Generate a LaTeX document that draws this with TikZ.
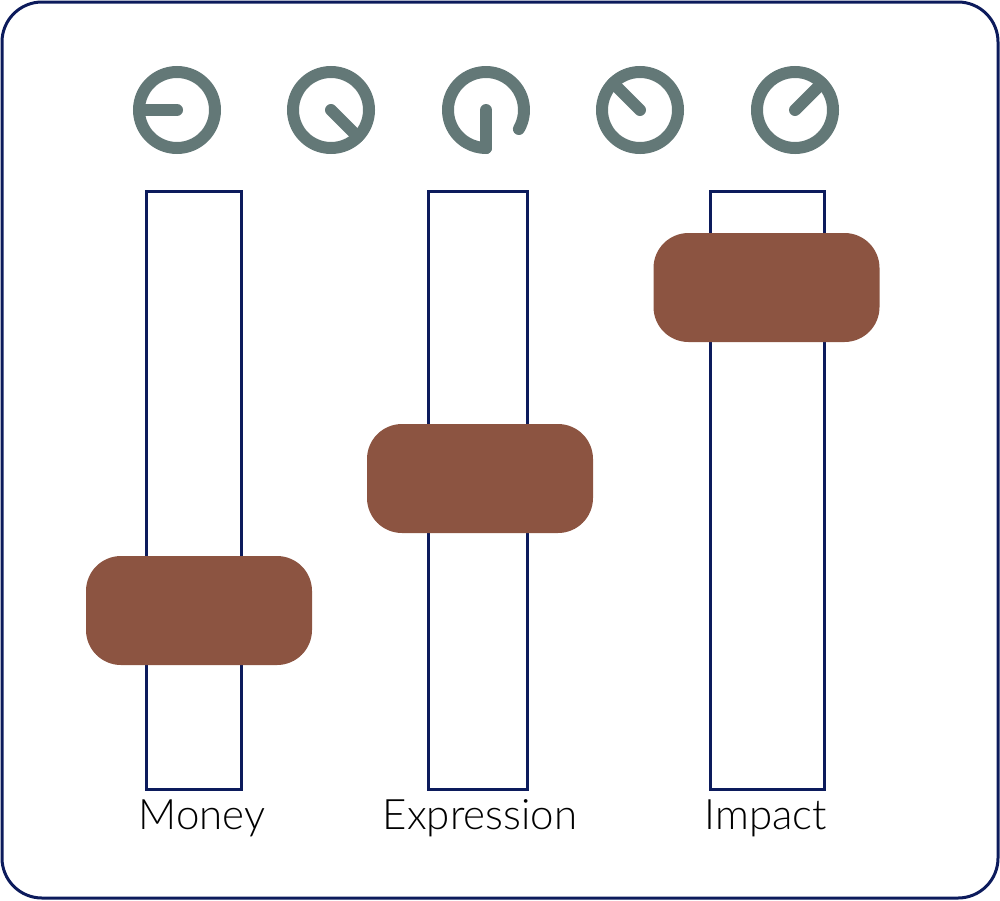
\documentclass[tikz,border=0pt]{standalone}
\usepackage{fontspec}
\setmainfont{Lato}[UprightFont=* Light]
\usepackage{tikz}
\usetikzlibrary{positioning}

\definecolor{navy}{HTML}{0C1B5C}
\definecolor{brick}{HTML}{8C5441}
\definecolor{slate}{HTML}{637877}

\tikzset{
  frame/.style={draw=navy, line width=3pt, rounded corners=40pt},
  track/.style={draw=navy, line width=3pt, rectangle, inner sep=0pt, outer sep=0pt, minimum height=598pt},
  handle/.style={fill=brick, rectangle, rounded corners=35pt, inner sep=0pt, minimum width=226pt, minimum height=109pt},
  knob/.style={draw=slate, line width=12pt, circle, inner sep=0pt, outer sep=0pt, minimum size=76pt},
  pointer/.style={draw=slate, line width=12pt, line cap=round},
  lbl/.style={font=\fontsize{42}{50}\selectfont, inner sep=0pt, anchor=base}
}

\begin{document}
\begin{tikzpicture}[x=1pt, y=-1pt]
            \useasboundingbox (0,0) rectangle (1000,900);
            \draw [frame] (2,2) rectangle (998,898);
            % knobs
            \node [knob] (k1) at (177,110) {};
            \node [knob] (k2) at (331,110) {};
            \coordinate (k3) at (486,110);
            \node [knob] (k4) at (640,110) {};
            \node [knob] (k5) at (795,110) {};
            \draw [pointer] (k1.center) -- (k1.180);
            \draw [pointer] (k2.center) -- (k2.-45);
            \draw [pointer] ([xshift=32.9pt,yshift=-19pt]k3) arc [start angle=-30, end angle=270, radius=38pt];
            \draw [pointer] (k3) -- ([yshift=-38pt]k3);
            \draw [pointer] (k4.center) -- (k4.135);
            \draw [pointer] (k5.center) -- (k5.45);
            % sliders
            \node [track, minimum width=95pt] (money) at (193.5,490) {};
            \node [track, minimum width=99pt] (expression) at (477.5,490) {};
            \node [track, minimum width=114pt] (impact) at (767,490) {};
            \node [handle] (moneyH) at (199,610.5) {};
            \node [handle] (expressionH) at (480,478.5) {};
            \node [handle] (impactH) at (766.5,287.5) {};
            \node [lbl] (moneyL) at (202,829) {Money};
            \node [lbl] (expressionL) at (480,829) {Expression};
            \node [lbl] (impactL) at (766,829) {Impact};
        \end{tikzpicture}
\end{document}
